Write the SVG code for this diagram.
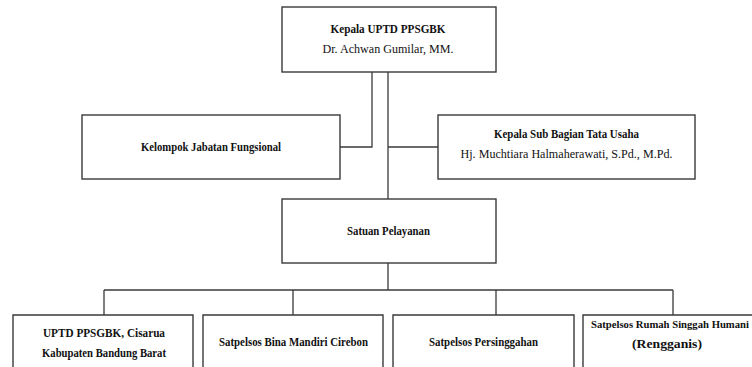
<svg xmlns="http://www.w3.org/2000/svg" width="752" height="367" viewBox="0 0 752 367">
<style>
.box{fill:#ffffff;stroke:#3a3a3a;stroke-width:1.4}
.ln{fill:none;stroke:#3a3a3a;stroke-width:1.3}
text{font-family:"Liberation Serif","Times New Roman",serif;fill:#111;text-anchor:middle}
.b{font-weight:bold;font-size:13px}
.r{font-size:12.5px}
</style>
<rect width="752" height="367" fill="#ffffff"/>
<g id="connectors">
<path class="ln" d="M372,72 V147 H340"/>
<path class="ln" d="M388,72 V199"/>
<path class="ln" d="M388,147 H438"/>
<path class="ln" d="M388,263 V290"/>
<path class="ln" d="M104,290 H673"/>
<path class="ln" d="M104,290 V315 M293,290 V315 M496,290 V315 M673,290 V315"/>
</g>
<g id="kepala-uptd">
<rect class="box" x="282" y="7" width="214" height="65"/>
<text class="b" x="388" y="33" textLength="115" lengthAdjust="spacingAndGlyphs">Kepala UPTD PPSGBK</text>
<text class="r" x="388" y="53" textLength="131" lengthAdjust="spacingAndGlyphs">Dr. Achwan Gumilar, MM.</text>
</g>
<g id="kelompok">
<rect class="box" x="82" y="115" width="258" height="64"/>
<text class="b" x="211" y="151" textLength="140" lengthAdjust="spacingAndGlyphs">Kelompok Jabatan Fungsional</text>
</g>
<g id="subbagian">
<rect class="box" x="438" y="115" width="257" height="64"/>
<text class="b" x="566.5" y="138" textLength="145" lengthAdjust="spacingAndGlyphs">Kepala Sub Bagian Tata Usaha</text>
<text class="r" x="566.5" y="158" textLength="212" lengthAdjust="spacingAndGlyphs">Hj. Muchtiara Halmaherawati, S.Pd., M.Pd.</text>
</g>
<g id="satuan">
<rect class="box" x="282" y="199" width="214" height="64"/>
<text class="b" x="388.5" y="235" textLength="83" lengthAdjust="spacingAndGlyphs">Satuan Pelayanan</text>
</g>
<g id="uptd-cisarua">
<path class="box" d="M13,372 V315 H193 V372"/>
<text class="b" x="104" y="337" textLength="122" lengthAdjust="spacingAndGlyphs">UPTD PPSGBK, Cisarua</text>
<text class="b" x="104" y="357" textLength="124" lengthAdjust="spacingAndGlyphs">Kabupaten Bandung Barat</text>
</g>
<g id="bina-mandiri">
<path class="box" d="M203,372 V315 H383 V372"/>
<text class="b" x="293.5" y="346" textLength="149" lengthAdjust="spacingAndGlyphs">Satpelsos Bina Mandiri Cirebon</text>
</g>
<g id="persinggahan">
<path class="box" d="M393,372 V315 H574 V372"/>
<text class="b" x="483.5" y="346" textLength="109" lengthAdjust="spacingAndGlyphs">Satpelsos Persinggahan</text>
</g>
<g id="rumah-singgah">
<path class="box" d="M583,372 V315 H760"/>
<text class="b" x="591" y="328" style="text-anchor:start;font-size:10.5px" textLength="158" lengthAdjust="spacingAndGlyphs">Satpelsos Rumah Singgah Humani</text>
<text class="b" x="667" y="348" textLength="70" lengthAdjust="spacingAndGlyphs">(Rengganis)</text>
</g>
</svg>
